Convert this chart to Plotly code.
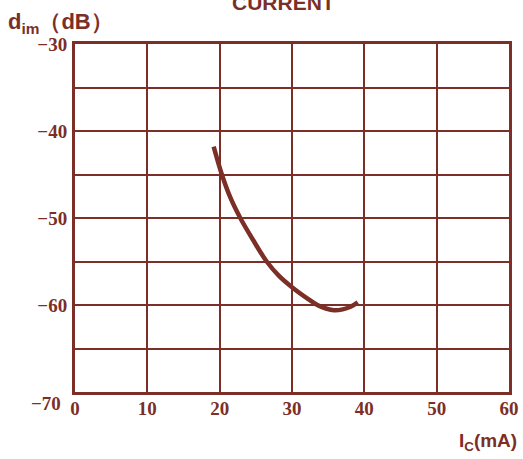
import plotly.graph_objects as go

# Data
ic_ma = [19.17, 20.3, 21.5, 22.85, 24.6, 26.5, 28.2, 30.0, 32.3, 33.5, 34.7, 35.8, 37.0, 38.1, 39.1]
dim_db = [-41.8, -45.0, -47.7, -50.0, -52.5, -55.0, -56.65, -57.95, -59.35, -60.0, -60.4, -60.6, -60.5, -60.2, -59.7]
x_ticks = [0, 10, 20, 30, 40, 50, 60]

C = "#7b2f27"
tickfont = dict(family="Liberation Serif", size=19, color=C, weight="bold")

fig = go.Figure()
fig.add_trace(go.Scatter(x=ic_ma, y=dim_db, mode="lines",
                         line=dict(color=C, width=4.5, shape="spline", smoothing=1.0),
                         showlegend=False, hoverinfo="skip"))

fig.update_layout(
    width=523, height=459,
    margin=dict(l=75, r=14, t=44, b=67),
    paper_bgcolor="white", plot_bgcolor="white",
    xaxis=dict(range=[0, 60], tickvals=x_ticks, ticktext=[str(v) for v in x_ticks],
               showgrid=True, gridcolor=C, gridwidth=1.5,
               showline=True, linecolor=C, linewidth=3, mirror=True,
               ticks="", tickfont=tickfont, zeroline=False, ticklabelstandoff=-3,
               automargin=False),
    yaxis=dict(range=[-70, -30], tickvals=[-30, -35, -40, -45, -50, -55, -60, -65],
               ticktext=["−30", "", "−40", "", "−50", "", "−60", ""],
               showgrid=True, gridcolor=C, gridwidth=1.5,
               showline=True, linecolor=C, linewidth=3, mirror=True,
               ticks="", tickfont=tickfont, zeroline=False, ticklabelstandoff=1,
               automargin=False),
)

fig.add_annotation(x=0, y=-70, xref="paper", yref="y", text="−70", showarrow=False,
                   xanchor="right", yanchor="middle", xshift=-12, yshift=-11,
                   font=tickfont)
fig.add_annotation(x=0, y=1.0, xref="paper", yref="paper",
                   text="d<sub>im</sub>（dB）", showarrow=False,
                   xanchor="left", yanchor="bottom", xshift=-69, yshift=5,
                   font=dict(family="Liberation Sans", size=22, color=C, weight="bold"))
fig.add_annotation(x=0.48, y=1.0, xref="paper", yref="paper",
                   text="CURRENT", showarrow=False,
                   xanchor="center", yanchor="bottom", yshift=28,
                   font=dict(family="Liberation Sans", size=21, color=C, weight="bold"))
fig.add_annotation(x=1.0, y=0, xref="paper", yref="paper",
                   text="I<sub>C</sub>(mA)", showarrow=False,
                   xanchor="right", yanchor="top", xshift=10, yshift=-36,
                   font=dict(family="Liberation Sans", size=19, color=C, weight="bold"))

fig.write_html("out.html", config={"displayModeBar": False},
               post_script="document.body.style.margin='0';document.body.style.overflow='hidden';")
